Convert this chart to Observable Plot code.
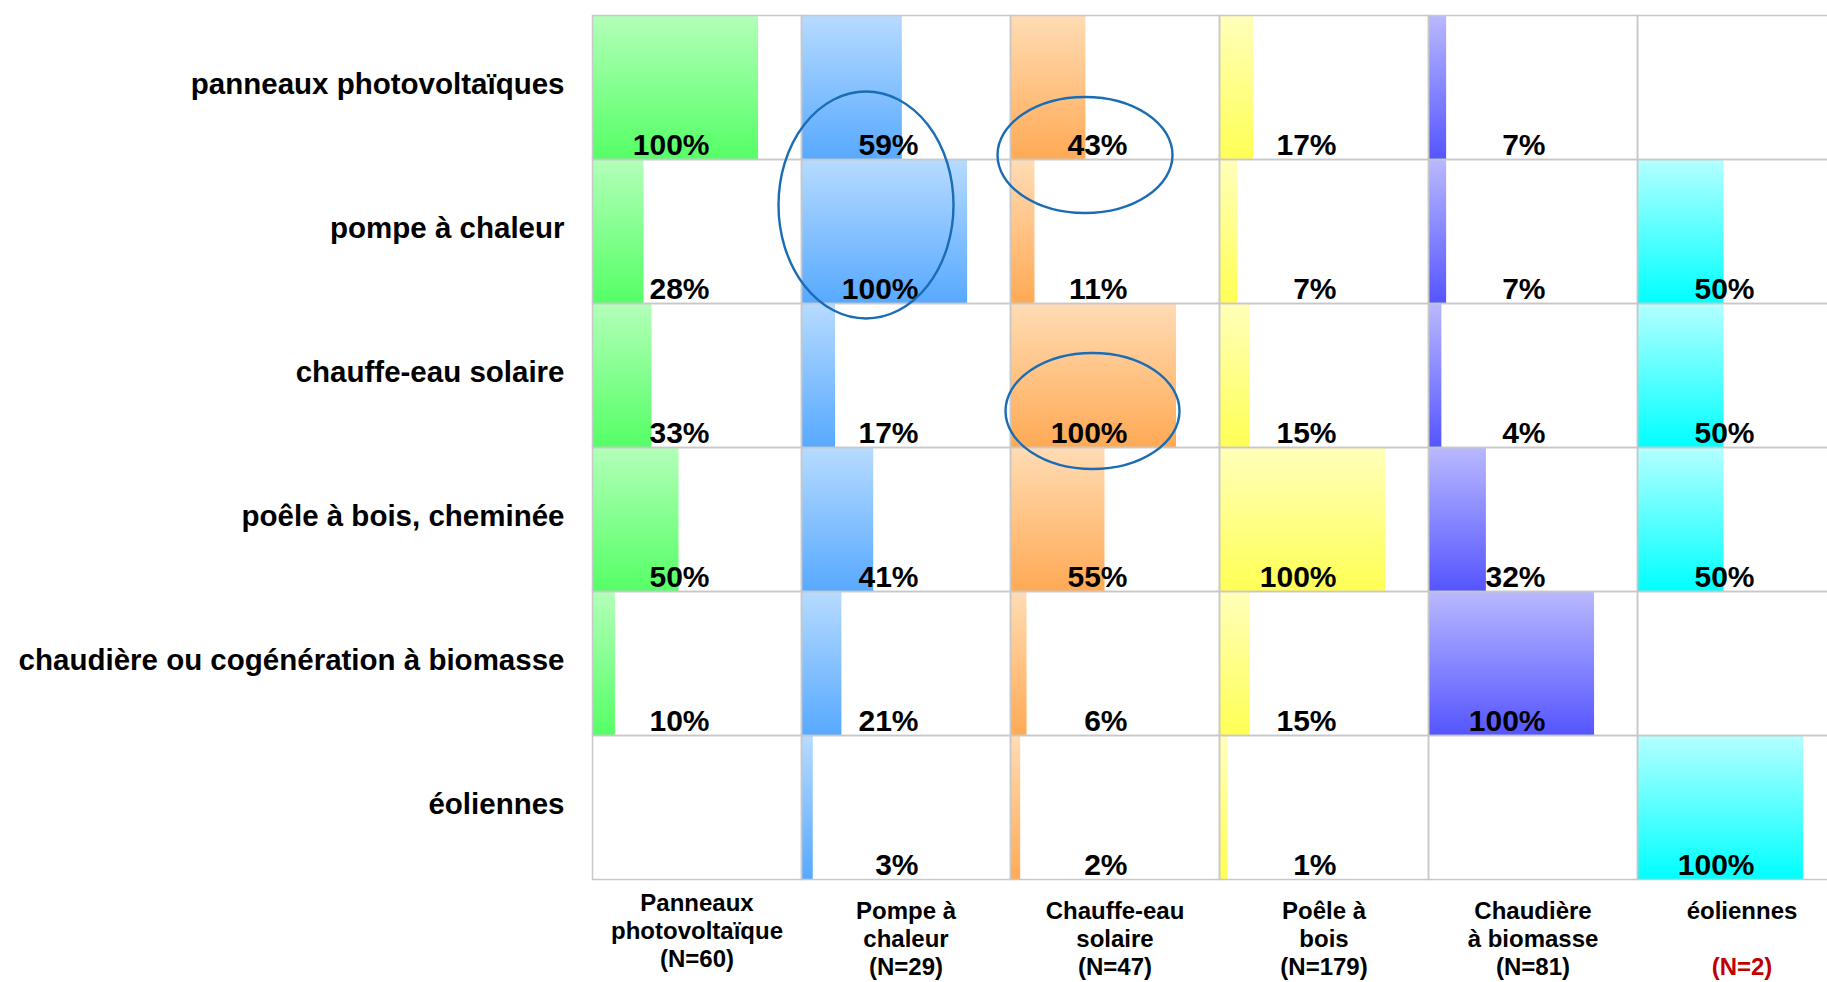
<!DOCTYPE html>
<html>
<head>
<meta charset="utf-8">
<script src="https://cdn.jsdelivr.net/npm/d3@7"></script>
<script src="https://cdn.jsdelivr.net/npm/@observablehq/plot@0.6"></script>
<style>
  html, body { margin: 0; padding: 0; background: #ffffff; overflow: hidden; }
  #chart { width: 1827px; height: 982px; overflow: hidden; }
  #chart svg { max-width: none !important; }
</style>
</head>
<body>
<div id="chart"></div>
<script>
// ---- Data ----
const rowLabels = [
  "panneaux photovoltaïques",
  "pompe à chaleur",
  "chauffe-eau solaire",
  "poêle à bois, cheminée",
  "chaudière ou cogénération à biomasse",
  "éoliennes"
];
const colKeys = [
  "Panneaux photovoltaïque",
  "Pompe à chaleur",
  "Chauffe-eau solaire",
  "Poêle à bois",
  "Chaudière à biomasse",
  "éoliennes"
];
const colLine1 = ["Panneaux", "Pompe à", "Chauffe-eau", "Poêle à", "Chaudière", "éoliennes"];
const colLine2 = ["photovoltaïque", "chaleur", "solaire", "bois", "à biomasse", ""];
const colN = [60, 29, 47, 179, 81, 2];

// percentages per column (one value per row, null = empty cell)
const pctPanneaux = [100, 28, 33, 50, 10, null];
const pctPompe    = [59, 100, 17, 41, 21, 3];
const pctChauffe  = [43, 11, 100, 55, 6, 2];
const pctPoele    = [17, 7, 15, 100, 15, 1];
const pctChaudiere= [7, 7, 4, 32, 100, null];
const pctEoliennes= [null, 50, 50, 50, null, 100];

// ---- Styles ----
const gradientStops = [
  ["#b3ffb9", "#55ff66"],
  ["#b7dbff", "#57a9ff"],
  ["#ffdcb5", "#ffaa55"],
  ["#ffffbb", "#ffff55"],
  ["#b9b9ff", "#5555ff"],
  ["#b5ffff", "#00ffff"]
];
const font = "'Liberation Sans', Arial, Helvetica, sans-serif";
// highlight ellipses (cell-relative, in px)
const highlights = [
  {col: "Pompe à chaleur", row: "pompe à chaleur", dx: 65, dy: 46, rx: 87.5, ry: 113.5},
  {col: "Chauffe-eau solaire", row: "panneaux photovoltaïques", dx: 75, dy: 140, rx: 87.5, ry: 58},
  {col: "Chauffe-eau solaire", row: "chauffe-eau solaire", dx: 82.5, dy: 108, rx: 87, ry: 58}
];

// ---- Build tables ----
const series = [pctPanneaux, pctPompe, pctChauffe, pctPoele, pctChaudiere, pctEoliennes];
const cells = [];
colKeys.forEach((c, j) => series[j].forEach((v, i) => {
  if (v != null) cells.push({col: c, row: rowLabels[i], v, j});
}));
const gridCells = [];
colKeys.forEach(c => rowLabels.forEach(r => gridCells.push({col: c, row: r})));
const colData = colKeys.map((c, j) => ({col: c, l1: colLine1[j], l2: colLine2[j], n: colN[j], j}));
const lastRow = rowLabels[rowLabels.length - 1];
const firstCol = colKeys[0];

const labelBase = {fontSize: 24, fontWeight: "bold", frameAnchor: "bottom", lineAnchor: "middle", textAnchor: "middle"};
const colMarks = (filter, lift) => [
  Plot.text(colData.filter(filter), {...labelBase, fx: "col", fy: () => lastRow, text: "l1", dy: 32 + lift, fill: "#000"}),
  Plot.text(colData.filter(filter), {...labelBase, fx: "col", fy: () => lastRow, text: "l2", dy: 60 + lift, fill: "#000"}),
  Plot.text(colData.filter(filter), {...labelBase, fx: "col", fy: () => lastRow, text: d => `(N=${d.n})`, dy: 88 + lift,
    fill: d => d.n < 10 ? "#c00000" : "#000000"})
];

const plot = Plot.plot({
  width: 1846,
  height: 982,
  marginLeft: 592,
  marginRight: 0,
  marginTop: 13,
  marginBottom: 101,
  style: {fontFamily: font, background: "#ffffff", color: "#000", maxWidth: "none", overflow: "visible"},
  fx: {domain: colKeys, padding: 0, axis: null, label: null},
  fy: {domain: rowLabels, padding: 0, axis: null, label: null},
  x: {domain: [0, 131.4], axis: null},
  y: {axis: null},
  color: {type: "identity"},
  marks: [
    Plot.text(gridCells, {fx: "col", fy: "row", text: () => ""}),
    Plot.barX(cells, {fx: "col", fy: "row", x1: () => 0, x2: "v", fill: d => `url(#grad${d.j})`, insetRight: -7}),
    Plot.frame({stroke: "#c8c8c8", strokeWidth: 1.5}),
    Plot.text(cells, {fx: "col", fy: "row", text: d => d.v + "%", frameAnchor: "bottom-left", textAnchor: "end",
      lineAnchor: "bottom", dx: 117, dy: -5, fontSize: 30, fontWeight: "bold", fill: "#000"}),
    Plot.text(rowLabels, {fx: () => firstCol, fy: d => d, text: d => d, frameAnchor: "left", textAnchor: "end",
      dx: -28, dy: -3, fontSize: 29.5, fontWeight: "bold", fill: "#000"}),
    ...colMarks(d => d.j === 0, -8),
    ...colMarks(d => d.j !== 0, 0)
  ]
});

// gradients
const svg = d3.select(plot.tagName.toLowerCase() === "svg" ? plot : plot.querySelector("svg"));
const defs = svg.insert("defs", ":first-child");
gradientStops.forEach(([top, bottom], j) => {
  const g = defs.append("linearGradient").attr("id", "grad" + j)
    .attr("x1", 0).attr("y1", 0).attr("x2", 0).attr("y2", 1);
  g.append("stop").attr("offset", "0%").attr("stop-color", top);
  g.append("stop").attr("offset", "100%").attr("stop-color", bottom);
});

// highlight ellipses positioned with the facet scales
const sfx = plot.scale("fx"), sfy = plot.scale("fy");
svg.append("g").attr("fill", "none").attr("stroke", "#1a6db5").attr("stroke-width", 2.4)
  .selectAll("ellipse").data(highlights).join("ellipse")
  .attr("cx", d => sfx.apply(d.col) + d.dx)
  .attr("cy", d => sfy.apply(d.row) + d.dy)
  .attr("rx", d => d.rx)
  .attr("ry", d => d.ry);

document.getElementById("chart").appendChild(plot);
</script>
</body>
</html>
